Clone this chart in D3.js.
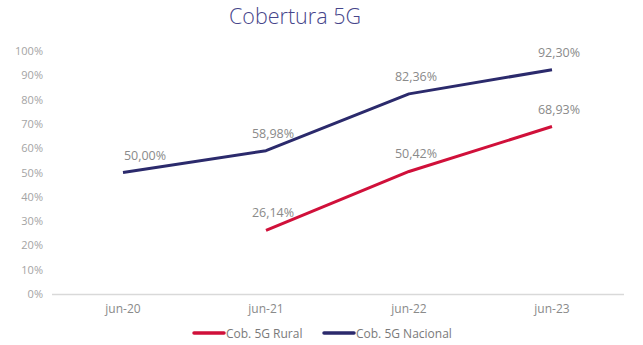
<!DOCTYPE html>
<html>
<head>
<meta charset="utf-8">
<script src="https://cdn.jsdelivr.net/npm/d3@7/dist/d3.min.js"></script>
<style>
  html, body { margin: 0; padding: 0; background: #fff; }
  svg { display: block; font-family: "Open Sans", "Lato", sans-serif; }
</style>
</head>
<body>
<svg id="chart" width="643" height="345"></svg>
<script>
// Coverage data (percent)
const periods = ["jun-20", "jun-21", "jun-22", "jun-23"];
const nacional = [50.00, 58.98, 82.36, 92.30];
const rural = [null, 26.14, 50.42, 68.93];
const yTicks = [0, 10, 20, 30, 40, 50, 60, 70, 80, 90, 100];
const seriesNames = ["Cob. 5G Rural", "Cob. 5G Nacional"];
const title = "Cobertura 5G";

const svg = d3.select("#chart");
const colors = { rural: "#d0103a", nacional: "#2b2a6c" };

const x = d3.scaleBand().domain(periods).range([51.5, 623.5]);
const y = d3.scaleLinear().domain([0, 100]).range([294, 51]);
const cx = d => x(d) + x.bandwidth() / 2;

// Title
svg.append("text")
  .attr("x", 295).attr("y", 24)
  .attr("text-anchor", "middle")
  .attr("font-size", 21.5)
  .attr("font-weight", 300)
  .attr("fill", "#46458a")
  .text(title);

// Y axis labels (no line)
const yAxis = d3.axisLeft(y).tickValues(yTicks).tickFormat(d => d + "%").tickSize(0).tickPadding(0);
const gy = svg.append("g").attr("transform", "translate(43,0)").call(yAxis);
gy.select(".domain").remove();
gy.selectAll("text").attr("font-size", 11).attr("fill", "#a4a4a4")
  .attr("font-family", "\"Open Sans\", sans-serif");

// X axis baseline and labels
const xAxis = d3.axisBottom(x).tickSize(0).tickPadding(10);
const gx = svg.append("g").attr("transform", "translate(0,294)").call(xAxis);
gx.select(".domain").attr("stroke", "#d9d9d9").attr("stroke-width", 1.5);
gx.selectAll("text").attr("font-size", 12).attr("fill", "#8a8a8a")
  .attr("font-family", "\"Open Sans\", sans-serif");

// Lines
const line = d3.line()
  .defined(d => d.v != null)
  .x(d => cx(d.p))
  .y(d => y(d.v));

const series = [
  { key: "rural", values: periods.map((p, i) => ({ p, v: rural[i], i })) },
  { key: "nacional", values: periods.map((p, i) => ({ p, v: nacional[i], i })) }
];

svg.selectAll("path.series")
  .data(series)
  .join("path")
  .attr("class", "series")
  .attr("fill", "none")
  .attr("stroke", d => colors[d.key])
  .attr("stroke-width", 3)
  .attr("stroke-linejoin", "round")
  .attr("d", d => line(d.values));

// Value labels
const fmt = v => v.toFixed(2).replace(".", ",") + "%";
series.forEach(s => {
  svg.selectAll(null)
    .data(s.values.filter(d => d.v != null))
    .join("text")
    .attr("x", d => cx(d.p) + (d.i === 0 ? 22 : 7))
    .attr("y", d => y(d.v) - 13)
    .attr("text-anchor", "middle")
    .attr("font-size", 12.5)
    .attr("fill", "#8a8a8a")
    .text(d => fmt(d.v));
});

// Legend
const legend = svg.append("g").attr("transform", "translate(0,333)");
const legendItems = [
  { name: seriesNames[0], color: colors.rural, x: 194 },
  { name: seriesNames[1], color: colors.nacional, x: 324 }
];
legendItems.forEach(it => {
  legend.append("line")
    .attr("x1", it.x).attr("x2", it.x + 30)
    .attr("y1", 0).attr("y2", 0)
    .attr("stroke", it.color).attr("stroke-width", 3.5)
    .attr("stroke-linecap", "round");
  legend.append("text")
    .attr("x", it.x + 32).attr("y", 4.5)
    .attr("font-size", 12)
    .attr("fill", "#7a7a7a")
    .text(it.name);
});
</script>
</body>
</html>
